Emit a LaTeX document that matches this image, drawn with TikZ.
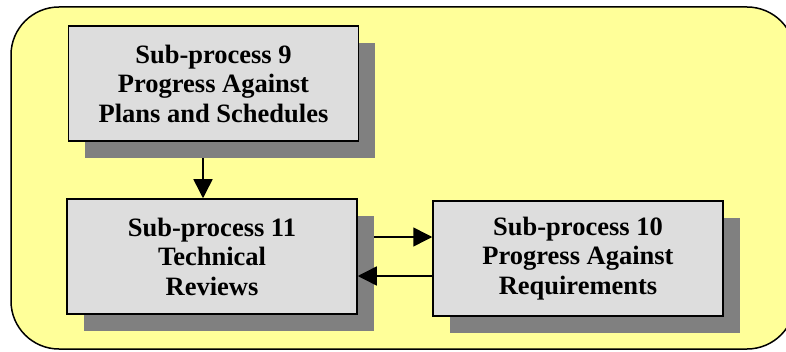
\documentclass[tikz,border=0pt]{standalone}
\usepackage{fontspec}
\setmainfont{Liberation Serif}[BoldFont={Liberation Serif Bold}]
\usetikzlibrary{shadows,arrows.meta}
\definecolor{bgyellow}{RGB}{255,255,153}
\definecolor{boxgray}{RGB}{221,221,221}
\definecolor{shadowgray}{RGB}{128,128,128}
\pgfdeclarelayer{back}
\pgfdeclarelayer{bg}
\pgfsetlayers{back,bg,main}
\tikzset{
  frame/.style={draw, line width=1.5pt, fill=bgyellow, rounded corners=48pt, inner sep=0pt},
  procbox/.style={draw, line width=1.5pt, fill=boxgray, inner sep=0pt,
    minimum width=290pt, minimum height=115pt, align=center,
    font=\fontsize{26.5pt}{29.5pt}\selectfont\bfseries,
    drop shadow={shadow xshift=16.5pt, shadow yshift=-17pt, fill=shadowgray, opacity=1}},
  arr/.style={line width=1.5pt, -{Triangle[length=19pt,width=19pt]}}
}
\begin{document}
\begin{tikzpicture}[x=1pt,y=1pt]
\useasboundingbox (0,0) rectangle (786,351);
\begin{pgfonlayer}{back}
\node[frame, minimum width=784pt, minimum height=342pt] (frame) at (403,173) {};
\end{pgfonlayer}
\node[procbox] (n9) at (213.5,267.5) {Sub-process 9\\Progress Against\\Plans and Schedules};
\node[procbox] (n11) at (212,94.5) {Sub-process 11\\Technical\\Reviews};
\node[procbox] (n10) at (578,92.5) {Sub-process 10\\Progress Against\\Requirements};
\begin{pgfonlayer}{bg}
\draw[arr] ([xshift=-10.5pt]n9.south) -- ([xshift=-10.5pt]n9.south |- n11.north);
\draw[arr] ([yshift=19.5pt]n11.east) -- ([yshift=19.5pt]n11.east -| n10.west);
\end{pgfonlayer}
\draw[arr] ([yshift=-17.5pt]n10.west) -- ([yshift=-17.5pt]n10.west -| n11.east);
\end{tikzpicture}
\end{document}
